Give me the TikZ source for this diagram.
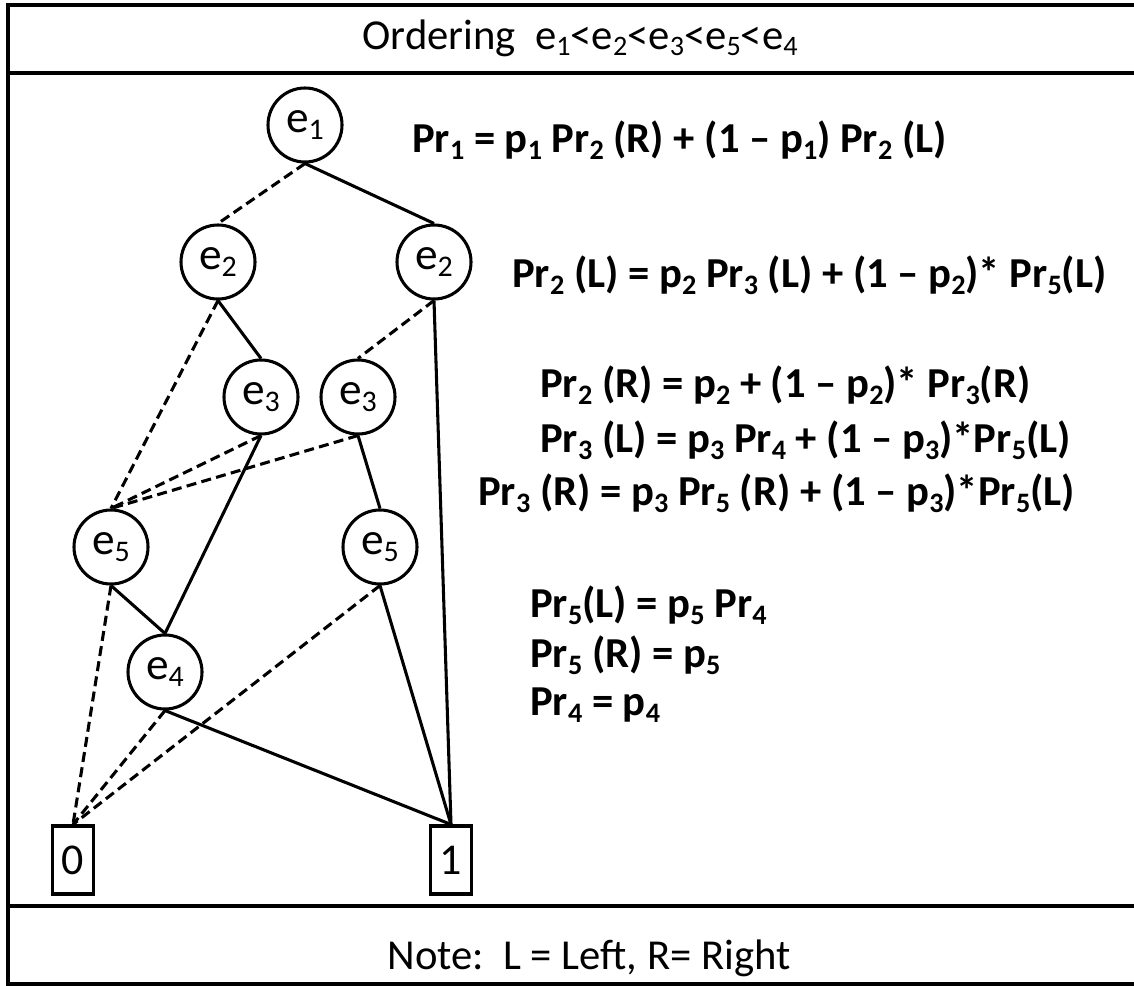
\documentclass[tikz,border=0pt]{standalone}
\usepackage{fontspec}
\setmainfont{Carlito}
\newcommand\sbs[1]{\raisebox{-0.32ex}{\scalebox{0.66}{#1}}}
\begin{document}
\begin{tikzpicture}[x=0.75pt,y=-0.75pt,
  ev/.style={circle,draw,line width=2.3pt,minimum size=55.5pt,inner sep=0pt,font=\fontsize{34}{40}\selectfont},
  leaf/.style={rectangle,draw,line width=2.3pt,minimum width=31pt,minimum height=51pt,inner sep=0pt,font=\fontsize{33}{40}\selectfont},
  hiedge/.style={line width=2.3pt},
  loedge/.style={line width=2.3pt,dash pattern=on 7.5pt off 4pt},
  eq/.style={anchor=west,inner sep=0pt,font=\bfseries\fontsize{32}{38}\selectfont},
  hdr/.style={inner sep=0pt,font=\fontsize{32}{38}\selectfont},
  framel/.style={line width=3pt}]
\useasboundingbox (0,0) rectangle (1134,985);
% frame
\draw[framel] (1134,5) -- (8,5) -- (8,984) -- (1134,984);
\draw[framel] (8,73) -- (1134,73);
\draw[framel] (8,906) -- (1134,906);
\node[hdr] (title) at (580,38) {Ordering\ \ e\sbs{1}<e\sbs{2}<e\sbs{3}<e\sbs{5}<e\sbs{4}};
\node[hdr] (note) at (589,958) {Note:\ \ L = Left, R= Right};
% nodes
\node[ev] (e1) at (305,125) {e\sbs{1}};
\node[ev] (e2a) at (218,262) {e\sbs{2}};
\node[ev] (e2b) at (434,262) {e\sbs{2}};
\node[ev] (e3a) at (261,397) {e\sbs{3}};
\node[ev] (e3b) at (358,397) {e\sbs{3}};
\node[ev] (e5a) at (111,547) {e\sbs{5}};
\node[ev] (e5b) at (380,547) {e\sbs{5}};
\node[ev] (e4) at (165,672) {e\sbs{4}};
\node[leaf] (b0) at (73,860) {0};
\node[leaf] (b1) at (451,860) {1};
% edges
\draw[loedge] (e1.south) -- (e2a.north);
\draw[hiedge] (e1.south) -- (e2b.north);
\draw[hiedge] (e2a.south) -- (e3a.north);
\draw[loedge] (e2a.south) -- (e5a.north);
\draw[loedge] (e2b.south) -- (e3b.north);
\draw[hiedge] (e2b.south) -- (b1.north);
\draw[loedge] (e3a.south) -- (e5a.north);
\draw[hiedge] (e3a.south) -- (e4.north);
\draw[loedge] (e3b.south) -- (e5a.north);
\draw[hiedge] (e3b.south) -- (e5b.north);
\draw[loedge] (e5a.south) -- (b0.north);
\draw[hiedge] (e5a.south) -- (e4.north);
\draw[loedge] (e5b.south) -- (b0.north);
\draw[hiedge] (e5b.south) -- (b1.north);
\draw[loedge] (e4.south) -- (b0.north);
\draw[hiedge] (e4.south) -- (b1.north);
% equations
\node[eq] (q1) at (412,140) {Pr\sbs{1} = p\sbs{1} Pr\sbs{2} (R) + (1 – p\sbs{1}) Pr\sbs{2} (L)};
\node[eq] (q2) at (512,275) {Pr\sbs{2} (L) = p\sbs{2} Pr\sbs{3} (L) + (1 – p\sbs{2})* Pr\sbs{5}(L)};
\node[eq] (q3) at (540,385) {Pr\sbs{2} (R) = p\sbs{2} + (1 – p\sbs{2})* Pr\sbs{3}(R)};
\node[eq] (q4) at (540,440) {Pr\sbs{3} (L) = p\sbs{3} Pr\sbs{4} + (1 – p\sbs{3})*Pr\sbs{5}(L)};
\node[eq] (q5) at (478,493) {Pr\sbs{3} (R) = p\sbs{3} Pr\sbs{5} (R) + (1 – p\sbs{3})*Pr\sbs{5}(L)};
\node[eq] (q6) at (530,605) {Pr\sbs{5}(L) = p\sbs{5} Pr\sbs{4}};
\node[eq] (q7) at (530,655) {Pr\sbs{5} (R) = p\sbs{5}};
\node[eq] (q8) at (530,705) {Pr\sbs{4} = p\sbs{4}};
\end{tikzpicture}
\end{document}
